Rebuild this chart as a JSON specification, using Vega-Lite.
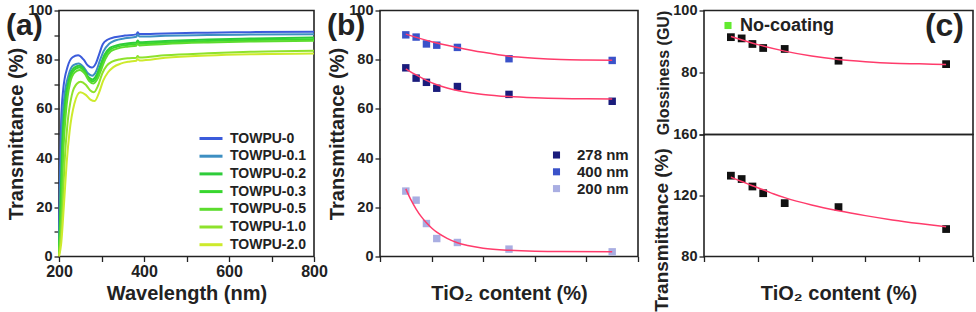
{
"$schema":"https://vega.github.io/schema/vega-lite/v6.json",
"padding":{"left":5,"top":1.5,"right":0,"bottom":0},
"background":"white",
"config":{
"font":"Liberation Sans",
"view":{"stroke":"#222","strokeWidth":1.6},
"axis":{"labelFont":"Liberation Sans","labelFontWeight":"bold","labelColor":"#222","titleFont":"Liberation Sans","titleFontWeight":"bold","titleColor":"#222","tickColor":"#222","domain":false,"grid":false,"tickSize":5,"tickWidth":1.3,"labelPadding":2,"labelFlush":false,"labelOverlap":false},
"axisX":{"labelFontSize":16,"titleFontSize":20,"titlePadding":4},
"axisY":{"labelFontSize":14.5,"titleFontSize":20,"titlePadding":1},
"legend":{"labelFont":"Liberation Sans","labelFontWeight":"bold","labelColor":"#222","padding":0},
"title":{"font":"Liberation Sans","fontWeight":"bold","color":"#222"}
},
"resolve":{"scale":{"color":"independent"},"legend":{"color":"independent"}},
"datasets":{
"spectra":[
{"s":"TOWPU-0","w":200,"t":3},{"s":"TOWPU-0","w":202,"t":30},{"s":"TOWPU-0","w":205,"t":55},{"s":"TOWPU-0","w":210,"t":68},{"s":"TOWPU-0","w":220,"t":77},{"s":"TOWPU-0","w":232,"t":81},{"s":"TOWPU-0","w":245,"t":81.8},{"s":"TOWPU-0","w":258,"t":80},{"s":"TOWPU-0","w":268,"t":77.6},{"s":"TOWPU-0","w":277,"t":76.8},{"s":"TOWPU-0","w":287,"t":78.6},{"s":"TOWPU-0","w":295,"t":82.5},{"s":"TOWPU-0","w":303,"t":86.3},{"s":"TOWPU-0","w":315,"t":88.2},{"s":"TOWPU-0","w":330,"t":89.1},{"s":"TOWPU-0","w":355,"t":89.8},{"s":"TOWPU-0","w":382,"t":90.3},{"s":"TOWPU-0","w":385,"t":91.2},{"s":"TOWPU-0","w":389,"t":90.4},{"s":"TOWPU-0","w":450,"t":90.7},{"s":"TOWPU-0","w":550,"t":91},{"s":"TOWPU-0","w":650,"t":91.2},{"s":"TOWPU-0","w":800,"t":91.4},
{"s":"TOWPU-0.1","w":200,"t":2},{"s":"TOWPU-0.1","w":203,"t":28},{"s":"TOWPU-0.1","w":206,"t":50},{"s":"TOWPU-0.1","w":212,"t":64},{"s":"TOWPU-0.1","w":222,"t":73.5},{"s":"TOWPU-0.1","w":234,"t":77.8},{"s":"TOWPU-0.1","w":246,"t":78.5},{"s":"TOWPU-0.1","w":258,"t":77},{"s":"TOWPU-0.1","w":268,"t":74.5},{"s":"TOWPU-0.1","w":278,"t":73.5},{"s":"TOWPU-0.1","w":288,"t":75.5},{"s":"TOWPU-0.1","w":296,"t":79.5},{"s":"TOWPU-0.1","w":305,"t":83.5},{"s":"TOWPU-0.1","w":318,"t":86.5},{"s":"TOWPU-0.1","w":332,"t":87.8},{"s":"TOWPU-0.1","w":355,"t":88.7},{"s":"TOWPU-0.1","w":382,"t":89.3},{"s":"TOWPU-0.1","w":385,"t":90.2},{"s":"TOWPU-0.1","w":389,"t":89.4},{"s":"TOWPU-0.1","w":450,"t":89.7},{"s":"TOWPU-0.1","w":550,"t":90},{"s":"TOWPU-0.1","w":650,"t":90.2},{"s":"TOWPU-0.1","w":800,"t":90.3},
{"s":"TOWPU-0.2","w":200,"t":1},{"s":"TOWPU-0.2","w":204,"t":25},{"s":"TOWPU-0.2","w":208,"t":47},{"s":"TOWPU-0.2","w":214,"t":62},{"s":"TOWPU-0.2","w":224,"t":72.5},{"s":"TOWPU-0.2","w":236,"t":76.8},{"s":"TOWPU-0.2","w":247,"t":77.5},{"s":"TOWPU-0.2","w":259,"t":76},{"s":"TOWPU-0.2","w":269,"t":73},{"s":"TOWPU-0.2","w":279,"t":72},{"s":"TOWPU-0.2","w":289,"t":74},{"s":"TOWPU-0.2","w":298,"t":78},{"s":"TOWPU-0.2","w":307,"t":82},{"s":"TOWPU-0.2","w":320,"t":84.8},{"s":"TOWPU-0.2","w":335,"t":85.8},{"s":"TOWPU-0.2","w":360,"t":86.6},{"s":"TOWPU-0.2","w":382,"t":87},{"s":"TOWPU-0.2","w":385,"t":87.8},{"s":"TOWPU-0.2","w":389,"t":87.1},{"s":"TOWPU-0.2","w":450,"t":87.6},{"s":"TOWPU-0.2","w":550,"t":88.2},{"s":"TOWPU-0.2","w":650,"t":88.6},{"s":"TOWPU-0.2","w":800,"t":89},
{"s":"TOWPU-0.3","w":200,"t":1},{"s":"TOWPU-0.3","w":205,"t":22},{"s":"TOWPU-0.3","w":209,"t":45},{"s":"TOWPU-0.3","w":215,"t":60},{"s":"TOWPU-0.3","w":225,"t":71.5},{"s":"TOWPU-0.3","w":237,"t":76},{"s":"TOWPU-0.3","w":248,"t":76.8},{"s":"TOWPU-0.3","w":260,"t":75.2},{"s":"TOWPU-0.3","w":270,"t":72.2},{"s":"TOWPU-0.3","w":280,"t":71.2},{"s":"TOWPU-0.3","w":290,"t":73.2},{"s":"TOWPU-0.3","w":299,"t":77.3},{"s":"TOWPU-0.3","w":308,"t":81.3},{"s":"TOWPU-0.3","w":321,"t":84.2},{"s":"TOWPU-0.3","w":336,"t":85.2},{"s":"TOWPU-0.3","w":360,"t":86},{"s":"TOWPU-0.3","w":382,"t":86.4},{"s":"TOWPU-0.3","w":385,"t":87.2},{"s":"TOWPU-0.3","w":389,"t":86.5},{"s":"TOWPU-0.3","w":450,"t":87},{"s":"TOWPU-0.3","w":550,"t":87.6},{"s":"TOWPU-0.3","w":650,"t":88},{"s":"TOWPU-0.3","w":800,"t":88.3},
{"s":"TOWPU-0.5","w":200,"t":1},{"s":"TOWPU-0.5","w":206,"t":20},{"s":"TOWPU-0.5","w":210,"t":42},{"s":"TOWPU-0.5","w":216,"t":58},{"s":"TOWPU-0.5","w":226,"t":70.5},{"s":"TOWPU-0.5","w":238,"t":75},{"s":"TOWPU-0.5","w":249,"t":75.8},{"s":"TOWPU-0.5","w":261,"t":74.2},{"s":"TOWPU-0.5","w":271,"t":71.3},{"s":"TOWPU-0.5","w":281,"t":70.3},{"s":"TOWPU-0.5","w":291,"t":72.3},{"s":"TOWPU-0.5","w":300,"t":76.3},{"s":"TOWPU-0.5","w":309,"t":80.3},{"s":"TOWPU-0.5","w":322,"t":83.4},{"s":"TOWPU-0.5","w":337,"t":84.5},{"s":"TOWPU-0.5","w":360,"t":85.3},{"s":"TOWPU-0.5","w":382,"t":85.7},{"s":"TOWPU-0.5","w":385,"t":86.5},{"s":"TOWPU-0.5","w":389,"t":85.8},{"s":"TOWPU-0.5","w":450,"t":86.4},{"s":"TOWPU-0.5","w":550,"t":87},{"s":"TOWPU-0.5","w":650,"t":87.4},{"s":"TOWPU-0.5","w":800,"t":87.7},
{"s":"TOWPU-1.0","w":200,"t":0.5},{"s":"TOWPU-1.0","w":208,"t":18},{"s":"TOWPU-1.0","w":213,"t":38},{"s":"TOWPU-1.0","w":220,"t":54},{"s":"TOWPU-1.0","w":230,"t":65.5},{"s":"TOWPU-1.0","w":242,"t":70.2},{"s":"TOWPU-1.0","w":251,"t":71},{"s":"TOWPU-1.0","w":263,"t":69.8},{"s":"TOWPU-1.0","w":273,"t":67.6},{"s":"TOWPU-1.0","w":282,"t":66.8},{"s":"TOWPU-1.0","w":292,"t":69.5},{"s":"TOWPU-1.0","w":302,"t":74.5},{"s":"TOWPU-1.0","w":312,"t":77.5},{"s":"TOWPU-1.0","w":325,"t":79.2},{"s":"TOWPU-1.0","w":345,"t":80.2},{"s":"TOWPU-1.0","w":365,"t":80.6},{"s":"TOWPU-1.0","w":382,"t":80.8},{"s":"TOWPU-1.0","w":385,"t":81.5},{"s":"TOWPU-1.0","w":389,"t":80.9},{"s":"TOWPU-1.0","w":450,"t":81.8},{"s":"TOWPU-1.0","w":550,"t":82.6},{"s":"TOWPU-1.0","w":650,"t":83.2},{"s":"TOWPU-1.0","w":800,"t":83.6},
{"s":"TOWPU-2.0","w":200,"t":0},{"s":"TOWPU-2.0","w":205,"t":5},{"s":"TOWPU-2.0","w":212,"t":22},{"s":"TOWPU-2.0","w":218,"t":38},{"s":"TOWPU-2.0","w":225,"t":51},{"s":"TOWPU-2.0","w":236,"t":62},{"s":"TOWPU-2.0","w":250,"t":66.8},{"s":"TOWPU-2.0","w":263,"t":65.7},{"s":"TOWPU-2.0","w":274,"t":63.8},{"s":"TOWPU-2.0","w":284,"t":63.2},{"s":"TOWPU-2.0","w":294,"t":66.5},{"s":"TOWPU-2.0","w":304,"t":71.5},{"s":"TOWPU-2.0","w":315,"t":74.8},{"s":"TOWPU-2.0","w":328,"t":77},{"s":"TOWPU-2.0","w":345,"t":78.4},{"s":"TOWPU-2.0","w":365,"t":79.2},{"s":"TOWPU-2.0","w":382,"t":79.6},{"s":"TOWPU-2.0","w":385,"t":80.3},{"s":"TOWPU-2.0","w":389,"t":79.7},{"s":"TOWPU-2.0","w":450,"t":80.8},{"s":"TOWPU-2.0","w":550,"t":81.7},{"s":"TOWPU-2.0","w":650,"t":82.2},{"s":"TOWPU-2.0","w":800,"t":82.5}
],
"ptsb":[
{"wl":"278 nm","x":0,"y":76.7},{"wl":"278 nm","x":0.1,"y":72.5},{"wl":"278 nm","x":0.2,"y":70.8},{"wl":"278 nm","x":0.3,"y":68.4},{"wl":"278 nm","x":0.5,"y":69.1},{"wl":"278 nm","x":1.0,"y":65.9},{"wl":"278 nm","x":2.0,"y":63.1},
{"wl":"400 nm","x":0,"y":90.1},{"wl":"400 nm","x":0.1,"y":89.2},{"wl":"400 nm","x":0.2,"y":86.4},{"wl":"400 nm","x":0.3,"y":85.9},{"wl":"400 nm","x":0.5,"y":85.0},{"wl":"400 nm","x":1.0,"y":80.4},{"wl":"400 nm","x":2.0,"y":79.7},
{"wl":"200 nm","x":0,"y":26.6},{"wl":"200 nm","x":0.1,"y":22.9},{"wl":"200 nm","x":0.2,"y":13.4},{"wl":"200 nm","x":0.3,"y":7.3},{"wl":"200 nm","x":0.5,"y":5.7},{"wl":"200 nm","x":1.0,"y":3.0},{"wl":"200 nm","x":2.0,"y":1.9}
],
"fitb":[
{"wl":"400 nm","x":0,"y":90.4},{"wl":"400 nm","x":0.25,"y":87.3},{"wl":"400 nm","x":0.5,"y":85.0},{"wl":"400 nm","x":0.75,"y":83.0},{"wl":"400 nm","x":1.0,"y":81.4},{"wl":"400 nm","x":1.25,"y":80.6},{"wl":"400 nm","x":1.5,"y":80.1},{"wl":"400 nm","x":1.75,"y":79.9},{"wl":"400 nm","x":2.0,"y":79.8},
{"wl":"278 nm","x":0,"y":76.3},{"wl":"278 nm","x":0.1,"y":73.8},{"wl":"278 nm","x":0.2,"y":71.6},{"wl":"278 nm","x":0.3,"y":69.8},{"wl":"278 nm","x":0.4,"y":68.5},{"wl":"278 nm","x":0.5,"y":67.5},{"wl":"278 nm","x":0.75,"y":65.9},{"wl":"278 nm","x":1.0,"y":65.0},{"wl":"278 nm","x":1.25,"y":64.5},{"wl":"278 nm","x":1.5,"y":64.2},{"wl":"278 nm","x":1.75,"y":64.1},{"wl":"278 nm","x":2.0,"y":64.0},
{"wl":"200 nm","x":0,"y":27.5},{"wl":"200 nm","x":0.05,"y":23.0},{"wl":"200 nm","x":0.1,"y":19.3},{"wl":"200 nm","x":0.15,"y":16.2},{"wl":"200 nm","x":0.2,"y":13.7},{"wl":"200 nm","x":0.25,"y":11.6},{"wl":"200 nm","x":0.3,"y":9.9},{"wl":"200 nm","x":0.4,"y":7.4},{"wl":"200 nm","x":0.5,"y":5.6},{"wl":"200 nm","x":0.6,"y":4.5},{"wl":"200 nm","x":0.75,"y":3.4},{"wl":"200 nm","x":1.0,"y":2.5},{"wl":"200 nm","x":1.25,"y":2.1},{"wl":"200 nm","x":1.5,"y":2.0},{"wl":"200 nm","x":2.0,"y":1.9}
],
"gloss":[
{"g":"No-coating","x":0,"y":91.4},{"g":"No-coating","x":0.1,"y":91.0},{"g":"No-coating","x":0.2,"y":89.2},{"g":"No-coating","x":0.3,"y":87.9},{"g":"No-coating","x":0.5,"y":87.6},{"g":"No-coating","x":1.0,"y":83.8},{"g":"No-coating","x":2.0,"y":82.7}
],
"glossfit":[
{"x":0,"y":91.6},{"x":0.25,"y":89.0},{"x":0.5,"y":86.9},{"x":0.75,"y":85.3},{"x":1.0,"y":84.2},{"x":1.25,"y":83.5},{"x":1.5,"y":83.0},{"x":1.75,"y":82.8},{"x":2.0,"y":82.6}
],
"trans":[
{"x":0,"y":133.0},{"x":0.1,"y":130.8},{"x":0.2,"y":125.9},{"x":0.3,"y":121.5},{"x":0.5,"y":115.0},{"x":1.0,"y":112.4},{"x":2.0,"y":98.0}
],
"transfit":[
{"x":0,"y":132},{"x":0.1,"y":129.2},{"x":0.2,"y":126.4},{"x":0.3,"y":123.8},{"x":0.4,"y":121.0},{"x":0.5,"y":118.6},{"x":0.75,"y":113.8},{"x":1.0,"y":110.0},{"x":1.25,"y":106.8},{"x":1.5,"y":104.0},{"x":1.75,"y":101.6},{"x":2.0,"y":99.5}
]
},
"spacing":66,
"bounds":"flush",
"hconcat":[
{
"width":255,"height":246,
"title":{"text":"(a)","anchor":"start","frame":"group","fontSize":30,"dx":-53,"dy":38,"offset":0},
"data":{"name":"spectra"},
"mark":{"type":"line","strokeWidth":2,"interpolate":"monotone"},
"encoding":{
"x":{"field":"w","type":"quantitative","scale":{"domain":[200,800],"nice":false},"axis":{"title":"Wavelength (nm)","values":[200,300,400,500,600,700,800],"labelExpr":"datum.value % 200 === 0 ? datum.label : ''"}},
"y":{"field":"t","type":"quantitative","scale":{"domain":[0,100],"nice":false},"axis":{"title":"Transmittance (%)","values":[0,10,20,30,40,50,60,70,80,90,100],"labelExpr":"datum.value % 20 === 0 ? datum.label : ''"}},
"color":{"field":"s","type":"nominal","scale":{"domain":["TOWPU-0","TOWPU-0.1","TOWPU-0.2","TOWPU-0.3","TOWPU-0.5","TOWPU-1.0","TOWPU-2.0"],"range":["#3b5bdb","#3d8fc2","#2ecc3a","#38d62e","#5cdc2e","#8ee22c","#cdea2c"]},"legend":{"title":null,"orient":"none","legendX":142,"legendY":118,"symbolType":"M-1.4,0H1.4","symbolSize":270,"symbolStrokeWidth":3,"labelFontSize":14,"labelOffset":9,"rowPadding":0.7}},
"order":{"field":"s","sort":"descending"}
}
},
{
"width":258,"height":246,
"title":{"text":"(b)","anchor":"start","frame":"group","fontSize":30,"dx":-53,"dy":38,"offset":0},
"layer":[
{"data":{"name":"ptsb"},"mark":{"type":"square","filled":true,"size":55,"opacity":1},
"encoding":{
"x":{"field":"x","type":"quantitative","scale":{"domain":[-0.25,2.25],"nice":false},"axis":{"title":"TiO₂ content (%)","values":[-0.25,0,0.25,0.5,0.75,1,1.25,1.5,1.75,2,2.25],"labelExpr":"datum.value % 0.5 === 0 ? format(datum.value, '.1f') : ''"}},
"y":{"field":"y","type":"quantitative","scale":{"domain":[0,100],"nice":false},"axis":{"title":"Transmittance (%)","values":[0,10,20,30,40,50,60,70,80,90,100],"labelExpr":"datum.value % 20 === 0 ? datum.label : ''"}},
"color":{"field":"wl","type":"nominal","scale":{"domain":["278 nm","400 nm","200 nm"],"range":["#1a1c7c","#3a52c9","#a9aee2"]},"legend":{"title":null,"orient":"none","legendX":169,"legendY":137,"symbolType":"square","symbolSize":50,"labelFontSize":15,"labelOffset":13,"rowPadding":0.8}}
}},
{"data":{"name":"fitb"},"mark":{"type":"line","color":"#ff3b6b","strokeWidth":1.5,"interpolate":"monotone"},
"encoding":{"x":{"field":"x","type":"quantitative"},"y":{"field":"y","type":"quantitative"},"detail":{"field":"wl"}}}
]
},
{
"vconcat":[
{
"width":269,"height":124,
"title":{"text":"(c)","anchor":"end","frame":"group","fontSize":32,"dx":-9,"dy":40,"offset":0},
"layer":[
{"data":{"name":"gloss"},"mark":{"type":"square","filled":true,"size":60,"color":"#111111","opacity":1},
"encoding":{
"x":{"field":"x","type":"quantitative","scale":{"domain":[-0.25,2.25],"nice":false},"axis":null},
"y":{"field":"y","type":"quantitative","scale":{"domain":[60,100],"nice":false},"axis":{"title":"Glossiness (GU)","titleFontSize":16,"values":[60,65,70,75,80,85,90,95,100],"labelExpr":"datum.value % 10 === 0 && datum.value > 60 ? datum.label : ''"}}
}},
{"data":{"name":"gloss"},"mark":{"type":"square","filled":true,"size":50,"opacity":0},
"encoding":{
"x":{"field":"x","type":"quantitative"},
"y":{"field":"y","type":"quantitative"},
"color":{"field":"g","type":"nominal","scale":{"domain":["No-coating"],"range":["#62ea2f"]},"legend":{"title":null,"orient":"none","legendX":15,"legendY":6,"symbolType":"square","symbolSize":50,"symbolOpacity":1,"labelFontSize":18,"labelOffset":3}}
}},
{"data":{"name":"glossfit"},"mark":{"type":"line","color":"#ff3b6b","strokeWidth":1.5,"interpolate":"monotone"},
"encoding":{"x":{"field":"x","type":"quantitative"},"y":{"field":"y","type":"quantitative"}}}
]
},
{
"width":269,"height":122,
"layer":[
{"data":{"name":"trans"},"mark":{"type":"square","filled":true,"size":60,"color":"#111111","opacity":1},
"encoding":{
"x":{"field":"x","type":"quantitative","scale":{"domain":[-0.25,2.25],"nice":false},"axis":{"title":"TiO₂ content (%)","values":[-0.25,0,0.25,0.5,0.75,1,1.25,1.5,1.75,2,2.25],"labelExpr":"datum.value % 0.5 === 0 ? format(datum.value, '.1f') : ''"}},
"y":{"field":"y","type":"quantitative","scale":{"domain":[80,160],"nice":false},"axis":{"title":"Transmittance (%)","titleFontSize":19,"titleY":95,"values":[80,90,100,110,120,130,140,150,160],"labelExpr":"datum.value % 20 === 0 ? datum.label : ''"}}
}},
{"data":{"name":"transfit"},"mark":{"type":"line","color":"#ff3b6b","strokeWidth":1.5,"interpolate":"monotone"},
"encoding":{"x":{"field":"x","type":"quantitative"},"y":{"field":"y","type":"quantitative"}}}
]
}
],
"spacing":0,
"bounds":"flush",
"resolve":{"scale":{"color":"independent"},"legend":{"color":"independent"}}
}
]
}
